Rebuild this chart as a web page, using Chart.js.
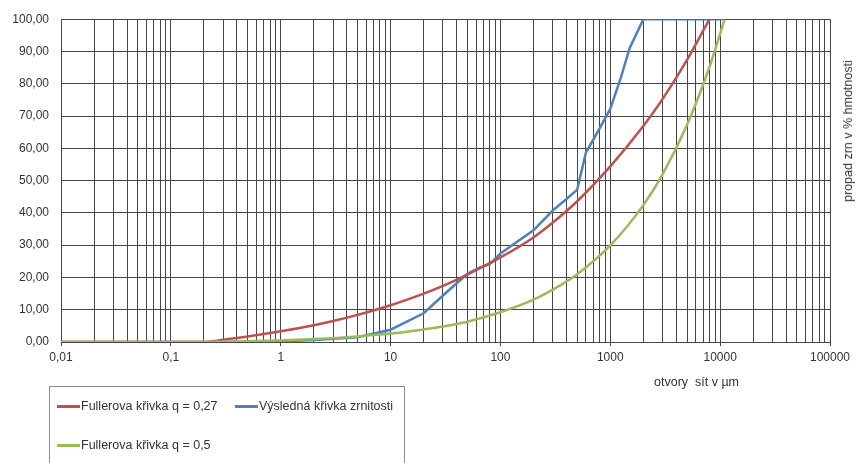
<!DOCTYPE html>
<html lang="cs">
<head>
<meta charset="utf-8">
<title>Křivka zrnitosti</title>
<script src="https://cdn.jsdelivr.net/npm/chart.js@4.4.1/dist/chart.umd.min.js"></script>
<style>
  html, body { margin: 0; padding: 0; background: #fff; }
  #wrap {
    position: relative; width: 856px; height: 463px; overflow: hidden;
    font-family: "Liberation Sans", Arial, sans-serif; color: #333;
  }
  #chart { position: absolute; left: 0; top: 0; }
  .x-title { position: absolute; left: 654px; top: 375px; font-size: 12.5px; white-space: pre; }
  .y-title {
    position: absolute; left: 848px; top: 131px; font-size: 12.5px; white-space: nowrap;
    transform: translate(-50%, -50%) rotate(-90deg);
  }
  #legend {
    position: absolute; left: 49px; top: 386px; width: 356px; height: 120px;
    border: 1px solid #8c8c8c; box-sizing: border-box;
  }
  .lg-item { position: absolute; display: flex; align-items: center; font-size: 12.5px; white-space: nowrap; height: 14px; }
  .lg-swatch { width: 23px; height: 3px; margin-right: 1px; }
</style>
</head>
<body>
<div id="wrap">
  <canvas id="chart" width="856" height="463"></canvas>
  <div class="x-title">otvory  sít v µm</div>
  <div class="y-title">propad zrn v % hmotnosti</div>
  <div id="legend"></div>
</div>

<script>
// Křivky zrnitosti — velikost oka síta (µm) vs. propad (%)

const FULLER_027_SIZES = [0.01, 0.2, 0.3, 0.5, 1, 2, 3, 5, 10, 20, 30, 50, 100, 200, 300, 500, 1000, 2000, 3000, 5000, 8000];
const FULLER_027_PASS  = [0, 0, 0.7, 1.7, 3.3, 5.2, 6.5, 8.4, 11.4, 15.0, 17.4, 20.9, 26.2, 32.4, 37.0, 43.6, 54.4, 66.9, 75.3, 87.4, 100];

const SAMPLE_SIZES = [0.01, 0.5, 1, 2, 5, 10, 20, 30, 50, 65, 80, 100, 200, 300, 400, 500, 600, 800, 1000, 1250, 1500, 2000, 10500];
const SAMPLE_PASS  = [0, 0, 0.2, 0.6, 1.5, 3.8, 8.9, 14.4, 21.1, 23.1, 24.1, 27.4, 34.6, 40.8, 44.3, 47.2, 58.7, 66.2, 72.2, 82.0, 91.0, 100, 100];

const FULLER_05_SIZES = [0.01, 0.2, 0.3, 0.5, 1, 2, 3, 5, 10, 20, 30, 50, 100, 200, 300, 500, 1000, 2000, 3000, 5000, 8000, 11000];
const FULLER_05_PASS  = [0, 0, 0.1, 0.25, 0.5, 0.9, 1.2, 1.7, 2.6, 3.9, 4.8, 6.3, 9.2, 13.1, 16.2, 21.0, 29.9, 42.4, 52.0, 67.3, 85.2, 100];

const X_MIN = 0.01, X_MAX = 100000;
const Y_TICKS_STEP = 10;

const RED = '#c0504d', BLUE = '#4f81bd', GREEN = '#9bbb59';
const GRID = '#474747';
const FONT = { family: 'Liberation Sans', size: 12 };

// legend slots (left, top inside the legend box)
const LEGEND_SLOTS = [[7, 12], [185, 12], [7, 51]];

// ── Boot ──────────────────────────────────────────────────────────────────────
document.addEventListener('DOMContentLoaded', () => {
  const chart = initChart();
  renderLegend(chart);
});

function pts(xs, ys) {
  return xs.map((x, i) => ({ x, y: ys[i] }));
}

function isDecade(v) {
  const l = Math.log10(v);
  return Math.abs(l - Math.round(l)) < 1e-9;
}

function fmt(v, digits) {
  const s = digits == null ? String(v) : v.toFixed(digits);
  return s.replace('.', ',');
}

// ── Chart ─────────────────────────────────────────────────────────────────────
function initChart() {
  const ctx = document.getElementById('chart');
  return new Chart(ctx, {
    type: 'line',
    data: {
      datasets: [
        {
          label: 'Fullerova křivka q = 0,27',
          data: pts(FULLER_027_SIZES, FULLER_027_PASS),
          borderColor: RED, backgroundColor: RED,
          borderWidth: 2.5, pointRadius: 0,
          cubicInterpolationMode: 'monotone',
          order: 1,
        },
        {
          label: 'Výsledná křivka zrnitosti',
          data: pts(SAMPLE_SIZES, SAMPLE_PASS),
          borderColor: BLUE, backgroundColor: BLUE,
          borderWidth: 2.5, pointRadius: 0, tension: 0,
          order: 2,
        },
        {
          label: 'Fullerova křivka q = 0,5',
          data: pts(FULLER_05_SIZES, FULLER_05_PASS),
          borderColor: GREEN, backgroundColor: GREEN,
          borderWidth: 2.5, pointRadius: 0,
          cubicInterpolationMode: 'monotone',
          order: 0,
        },
      ],
    },
    options: {
      responsive: false,
      animation: false,
      devicePixelRatio: 1,
      layout: { padding: { left: 0, top: 16, right: 26, bottom: 0 } },
      plugins: { legend: { display: false }, tooltip: { enabled: false } },
      scales: {
        x: {
          type: 'logarithmic',
          min: X_MIN, max: X_MAX,
          afterBuildTicks: scale => {
            const ticks = [];
            for (let e = -2; e <= 4; e++) {
              for (let m = 1; m <= 9; m++) ticks.push({ value: m * Math.pow(10, e) });
            }
            ticks.push({ value: X_MAX });
            scale.ticks = ticks;
          },
          afterFit: scale => { scale.height = 121; },
          grid: {
            color: GRID, lineWidth: 1, drawTicks: true, tickLength: 4,
            tickColor: c => (c.tick && isDecade(c.tick.value) ? GRID : 'rgba(0,0,0,0)'),
          },
          border: { display: true, color: GRID },
          ticks: {
            autoSkip: false, maxRotation: 0, padding: 4,
            font: FONT, color: '#333',
            callback: v => (isDecade(v) ? fmt(+v.toPrecision(6)) : ''),
          },
        },
        y: {
          min: 0, max: 100,
          afterFit: scale => { scale.width = 61; },
          grid: { color: GRID, lineWidth: 1, drawTicks: false },
          border: { display: true, color: GRID },
          ticks: {
            stepSize: Y_TICKS_STEP, padding: 12,
            font: FONT, color: '#333',
            callback: v => fmt(v, 2),
          },
        },
      },
    },
  });
}

// ── Legend (boxed, Excel style) ───────────────────────────────────────────────
function renderLegend(chart) {
  const box = document.getElementById('legend');
  chart.data.datasets.forEach((ds, i) => {
    const [left, top] = LEGEND_SLOTS[i];
    const item = document.createElement('div');
    item.className = 'lg-item';
    item.style.left = left + 'px';
    item.style.top = top + 'px';
    const sw = document.createElement('span');
    sw.className = 'lg-swatch';
    sw.style.background = ds.borderColor;
    const txt = document.createElement('span');
    txt.textContent = ds.label;
    item.appendChild(sw);
    item.appendChild(txt);
    box.appendChild(item);
  });
}
</script>
</body>
</html>
